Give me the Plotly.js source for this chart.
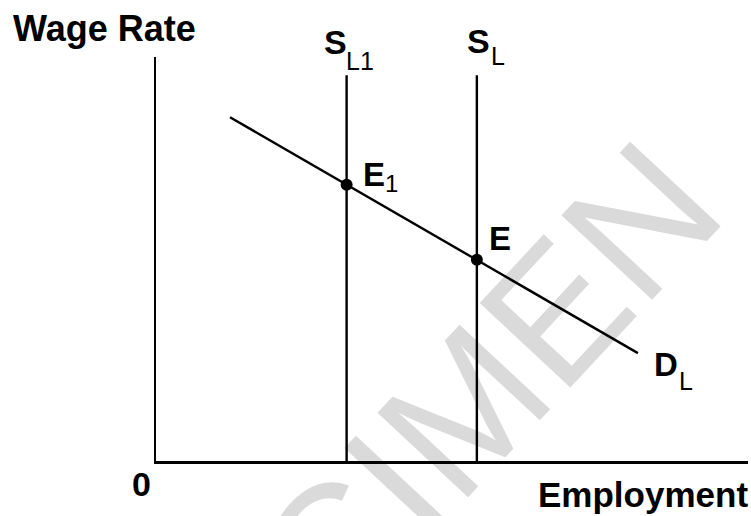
<!DOCTYPE html>
<html>
<head>
<meta charset="utf-8">
<script src="https://cdn.plot.ly/plotly-3.0.1.min.js"></script>
<style>html,body{margin:0;padding:0;background:#fff;}#chart{width:751px;height:516px;}</style>
</head>
<body>
<div id="chart"></div>
<script>
// ---- data (arbitrary economic units) ----
const supplyNames = ['S_L1', 'S_L'];
const supplyX = [3.22, 5.42];
const supplyTop = 9.55;
const demandX = [1.25, 8.14];
const demandY = [8.51, 2.67];
const eqNames = ['E1', 'E'];
const eqX = [3.22, 5.42];
const eqY = [6.84, 4.98];

// ---- layout geometry ----
const W = 751, H = 516;
const M = {l: 156, r: 3, t: 57, b: 55};
const PW = W - M.l - M.r, PH = H - M.t - M.b;
const px = x => (x - M.l) / PW;          // pixel -> paper x
const py = y => (H - M.b - y) / PH;      // pixel -> paper y

const FONT = 'Liberation Sans, Arial, Helvetica, sans-serif';
const traces = [];
supplyX.forEach((x, i) => {
  traces.push({x: [x, x], y: [0, supplyTop], mode: 'lines', name: supplyNames[i],
    line: {color: '#000', width: 2.4}, hoverinfo: 'skip', cliponaxis: false});
});
traces.push({x: demandX, y: demandY, mode: 'lines', name: 'D_L',
  line: {color: '#000', width: 2.4}, cliponaxis: false});
traces.push({x: eqX, y: eqY, mode: 'markers', name: 'Equilibrium', text: eqNames,
  marker: {color: '#000', size: 12}, cliponaxis: false});

function ann(text, x, y, size, bold, xanchor) {
  return {text: bold ? '<b>' + text + '</b>' : text, xref: 'paper', yref: 'paper',
    x: px(x), y: py(y), xanchor: xanchor || 'left', yanchor: 'middle', showarrow: false,
    borderpad: 0, font: {family: FONT, size: size, color: '#000'}};
}
const annotations = [
  ann('Wage Rate', 12, 29, 36, true),
  ann('S', 335, 42, 34, true, 'center'),
  ann('L1', 345, 61, 25, false),
  ann('S', 478, 41, 34, true, 'center'),
  ann('L', 490, 56, 25, false),
  ann('E', 362, 174, 33, true),
  ann('1', 384, 184, 24, false),
  ann('E', 488, 239, 33, true),
  ann('D', 653, 364, 33, true),
  ann('L', 678, 381, 25, false),
  ann('0', 141, 484, 34, true, 'center'),
  ann('Employment', 749, 494, 35, true, 'right')
];

// watermark, drawn beneath the data
const cx = 352, cy = 505, ang = 47 * Math.PI / 180;
const ux = Math.cos(ang), uy = -Math.sin(ang);
const shapes = [{
  type: 'line', xref: 'paper', yref: 'paper', layer: 'below',
  x0: px(cx - 200 * ux), y0: py(cy - 200 * uy), x1: px(cx + 200 * ux), y1: py(cy + 200 * uy),
  line: {color: 'rgba(0,0,0,0)', width: 0},
  label: {text: 'SPECIMEN', textposition: 'middle', yanchor: 'middle', xanchor: 'center', padding: 0,
    font: {family: FONT, size: 180, color: '#dadada'}}
}];

const axisCommon = {showline: true, linecolor: '#000', linewidth: 2.5, showgrid: false,
  zeroline: false, showticklabels: false, ticks: '', fixedrange: true};
const layout = {
  width: W, height: H, margin: M, showlegend: false,
  paper_bgcolor: '#fff', plot_bgcolor: '#fff',
  xaxis: Object.assign({range: [0, 10]}, axisCommon),
  yaxis: Object.assign({range: [0, 10]}, axisCommon),
  annotations: annotations, shapes: shapes, hovermode: false
};
Plotly.newPlot('chart', traces, layout, {staticPlot: true, displayModeBar: false});
</script>
</body>
</html>
